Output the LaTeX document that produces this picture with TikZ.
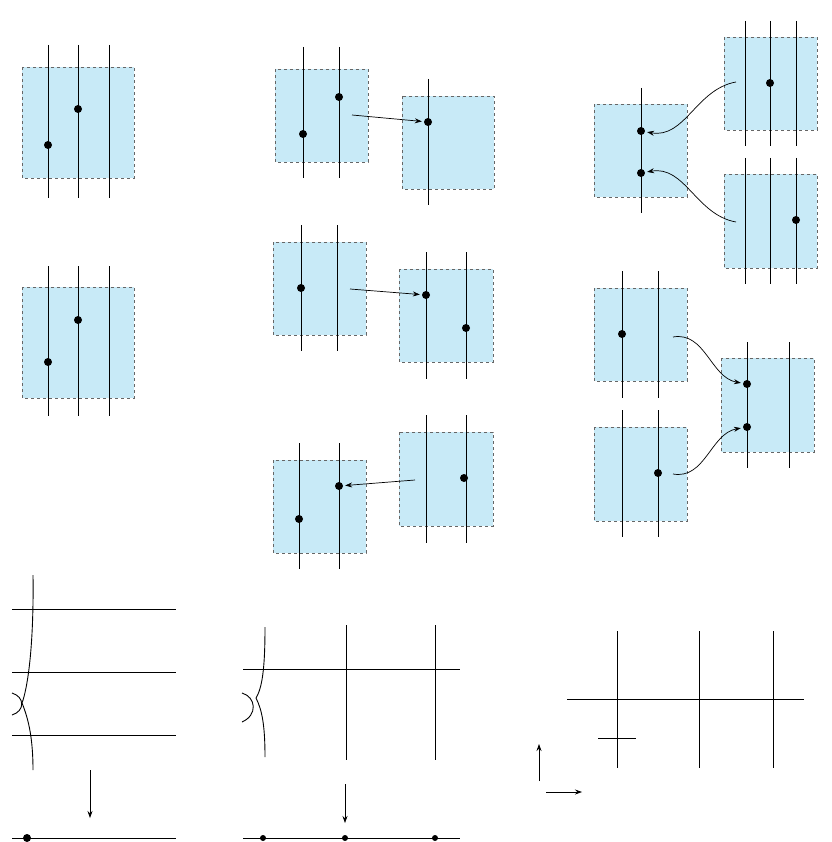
\documentclass[tikz,border=0pt]{standalone}
\usepackage{tikz}
\usetikzlibrary{arrows,calc,positioning}
\definecolor{clrPatch}{RGB}{200,234,247}
\tikzstyle{patch}=[draw=black!60, dashed, fill=clrPatch]
\tikzstyle{strand}=[line width=0.9pt]
\tikzstyle{pt}=[circle, fill=black, inner sep=0pt, minimum size=8pt]
\tikzstyle{myarrow}=[-{Stealth[length=7pt,width=5pt]}, line width=0.7pt, shorten >=2pt]
\usetikzlibrary{arrows.meta}
\begin{document}
\begin{tikzpicture}[x=1pt,y=-1pt]
		\useasboundingbox (0,0) rectangle (831,842);

		% first column
		\draw[patch] (22,67) rectangle (134,178);
		\foreach \x in {48,78,109} \draw[strand] (\x,45) -- (\x,198);
		\node[pt] (a1) at (48,145) {}; \node[pt] (a2) at (78,109) {};
		\draw[patch] (22,287) rectangle (134,398);
		\foreach \x in {48,78,109} \draw[strand] (\x,266) -- (\x,416);
		\node[pt] (b1) at (48,362) {}; \node[pt] (b2) at (78,320) {};

		% second column
		\draw[patch] (275,69) rectangle (368,162);
		\foreach \x in {303,339} \draw[strand] (\x,47) -- (\x,178);
		\node[pt] (c1) at (303,134) {}; \node[pt] (c2) at (339,97) {};
		\coordinate (c3) at (352,115);
		\draw[patch] (402,96) rectangle (494,189);
		\draw[strand] (428,79) -- (428,205);
		\node[pt] (d1) at (428,122) {};
		\draw[myarrow] (c3) -- (d1);

		\draw[patch] (273,242) rectangle (366,335);
		\foreach \x in {301,337} \draw[strand] (\x,225) -- (\x,351);
		\node[pt] (e1) at (301,288) {};
		\coordinate (e2) at (350,289);
		\draw[patch] (399,269) rectangle (493,362);
		\foreach \x in {426,466} \draw[strand] (\x,252) -- (\x,379);
		\node[pt] (f1) at (426,295) {}; \node[pt] (f2) at (466,328) {};
		\draw[myarrow] (e2) -- (f1);

		\draw[patch] (273,460) rectangle (366,553);
		\foreach \x in {299,339} \draw[strand] (\x,443) -- (\x,569);
		\node[pt] (g1) at (299,519) {}; \node[pt] (g2) at (339,486) {};
		\draw[patch] (399,432) rectangle (493,526);
		\foreach \x in {426,466} \draw[strand] (\x,415) -- (\x,543);
		\node[pt] (h1) at (464,478) {};
		\coordinate (h2) at (415,480);
		\draw[myarrow] (h2) -- (g2);

		% third column
		\draw[patch] (594,104) rectangle (687,197);
		\draw[strand] (641,88) -- (641,213);
		\node[pt] (i1) at (641,131) {}; \node[pt] (i2) at (641,173) {};
		\draw[patch] (724,37) rectangle (817,130);
		\foreach \x in {745,770,796} \draw[strand] (\x,21) -- (\x,146);
		\node[pt] (j1) at (770,83) {};
		\coordinate (j2) at (736,82);
		\draw[patch] (724,174) rectangle (817,268);
		\foreach \x in {745,770,796} \draw[strand] (\x,158) -- (\x,284);
		\node[pt] (k1) at (796,220) {};
		\coordinate (k2) at (736,222);
		\draw[myarrow] (j2) to[out=190,in=-10] (i1);
		\draw[myarrow] (k2) to[out=170,in=10] (i2);

		\draw[patch] (594,288) rectangle (687,381);
		\foreach \x in {622,658} \draw[strand] (\x,271) -- (\x,398);
		\node[pt] (l1) at (622,334) {};
		\coordinate (l2) at (673,337);
		\draw[patch] (594,427) rectangle (687,521);
		\foreach \x in {622,658} \draw[strand] (\x,410) -- (\x,537);
		\node[pt] (m1) at (658,473) {};
		\coordinate (m2) at (673,474);
		\draw[patch] (721,358) rectangle (814,452);
		\foreach \x in {747,789} \draw[strand] (\x,342) -- (\x,468);
		\node[pt] (n1) at (747,384) {}; \node[pt] (n2) at (747,427) {};
		\draw[myarrow] (l2) to[out=10,in=170] (n1);
		\draw[myarrow] (m2) to[out=-10,in=190] (n2);

		% bottom left
		\foreach \y in {609,672,735} \draw[strand] (12,\y) -- (176,\y);
		\draw[strand] (33,575) .. controls (34,650) and (27,690) .. (22,703) .. controls (29,720) and (33,740) .. (33,770);
		\draw[strand] (12,693) .. controls (25,697) and (25,711) .. (12,715);
		\coordinate (p1) at (90,770); \coordinate (p2) at (90,820);
		\draw[myarrow] (p1) -- (p2);
		\draw[strand] (12,838) -- (176,838);
		\node[pt] (q1) at (27,838) {};

		% bottom middle
		\draw[strand] (243,669) -- (460,669);
		\foreach \x in {346,435} \draw[strand] (\x,625) -- (\x,760);
		\draw[strand] (265,627) .. controls (265,670) and (262,688) .. (256,698) .. controls (262,710) and (265,725) .. (265,757);
		\draw[strand] (242,693) .. controls (256,697) and (258,715) .. (242,722);
		\coordinate (r1) at (345,784); \coordinate (r2) at (345,825);
		\draw[myarrow] (r1) -- (r2);
		\draw[strand] (243,838) -- (460,838);
		\foreach \x in {263,345,435} \node[pt,minimum size=6pt] at (\x,838) {};

		% bottom right
		\foreach \x in {617,699,773} \draw[strand] (\x,631) -- (\x,768);
		\draw[strand] (567,699) -- (804,699);
		\draw[strand] (598,738) -- (636,738);
		\coordinate (s0) at (539,781); \coordinate (s1) at (539,742);
		\coordinate (s2) at (546,792); \coordinate (s3) at (584,792);
		\draw[myarrow] (s0) -- (s1);
		\draw[myarrow] (s2) -- (s3);
\end{tikzpicture}
\end{document}
